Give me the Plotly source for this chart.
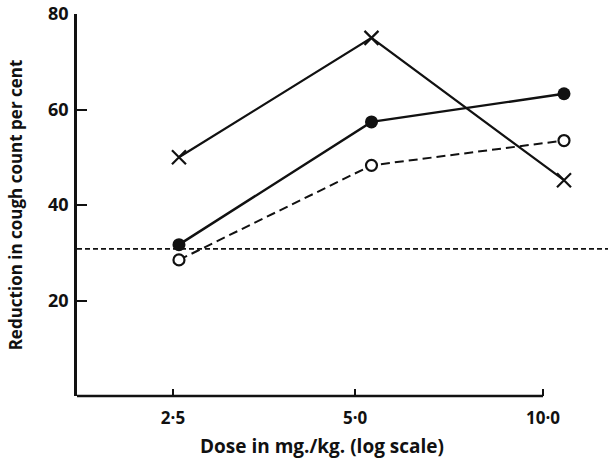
import math
import plotly.graph_objects as go

# ---- data ----
dose = [2.5, 5.0, 10.0]
cross_series = [50.0, 75.0, 45.2]       # x markers, solid line
filled_series = [31.7, 57.4, 63.3]      # filled circles, solid line
open_series = [28.5, 48.3, 53.5]        # open circles, dashed line
control_level = 30.8                    # horizontal dashed line

y_tick_vals = [20, 40, 60, 80]
y_tick_labels = ["20", "40", "60", "80"]
x_tick_labels = ["2·5", "5·0", "10·0"]
# positions of the printed ticks on the original log axis (drawn slightly off the data points)
x_tick_pos = [2.447, 4.713, 9.273]

X_RANGE = [0.2385, 1.0688]   # log10 range of the x axis

FONT = "Open Sans"
black = "#111111"

fig = go.Figure()

fig.add_trace(go.Scatter(
    x=dose, y=open_series, mode="lines+markers",
    line=dict(color=black, width=2, dash="9px,5px"),
    marker=dict(symbol="circle", size=11, color="white",
                line=dict(color=black, width=2.2)),
    showlegend=False, cliponaxis=False))

fig.add_trace(go.Scatter(
    x=dose, y=filled_series, mode="lines+markers",
    line=dict(color=black, width=2.4),
    marker=dict(symbol="circle", size=13, color=black),
    showlegend=False, cliponaxis=False))

fig.add_trace(go.Scatter(
    x=dose, y=cross_series, mode="lines+markers",
    line=dict(color=black, width=2.2),
    marker=dict(symbol="x-thin", size=14, color=black,
                line=dict(color=black, width=2.2)),
    showlegend=False, cliponaxis=False))

# control level dashed line across the whole width
fig.add_shape(type="line", xref="paper", yref="y", x0=0, x1=1,
              y0=control_level, y1=control_level, layer="below",
              line=dict(color=black, width=1.8, dash="5px,3px"))

# x-axis baseline, ending at the last printed tick
end_frac = (math.log10(x_tick_pos[-1]) - X_RANGE[0]) / (X_RANGE[1] - X_RANGE[0])
fig.add_shape(type="line", xref="paper", yref="paper", x0=0, x1=end_frac, y0=0, y1=0,
              line=dict(color=black, width=2.4))

# x-axis title (centred under the printed axis, not the whole width)
fig.add_annotation(text="Dose in mg./kg. (log scale)", xref="paper", yref="paper",
                   x=0.4614, y=-0.131, xanchor="center", yanchor="middle",
                   showarrow=False,
                   font=dict(family=FONT, size=19, color=black, weight="bold"))

fig.update_layout(
    width=608, height=459,
    margin=dict(l=77, r=0, t=14, b=63),
    paper_bgcolor="white", plot_bgcolor="white",
    font=dict(family=FONT, color=black),
    xaxis=dict(
        type="log", range=X_RANGE,
        showgrid=False, zeroline=False, showline=False,
        tickmode="array", tickvals=x_tick_pos, ticktext=x_tick_labels,
        ticks="inside", ticklen=7, tickwidth=2, tickcolor=black,
        ticklabelstandoff=10,
        tickfont=dict(family=FONT, size=17, color=black, weight="bold"),
    ),
    yaxis=dict(
        range=[0, 80],
        showgrid=False, zeroline=False,
        showline=True, linecolor=black, linewidth=2.5,
        tickmode="array", tickvals=y_tick_vals, ticktext=y_tick_labels,
        ticks="inside", ticklen=10, tickwidth=2, tickcolor=black,
        ticklabelstandoff=2,
        tickfont=dict(family=FONT, size=18, color=black, weight="bold"),
        title=dict(text="Reduction in cough count per cent", standoff=22,
                   font=dict(family=FONT, size=17, color=black, weight="bold")),
    ),
)

fig.write_html("out.html")
